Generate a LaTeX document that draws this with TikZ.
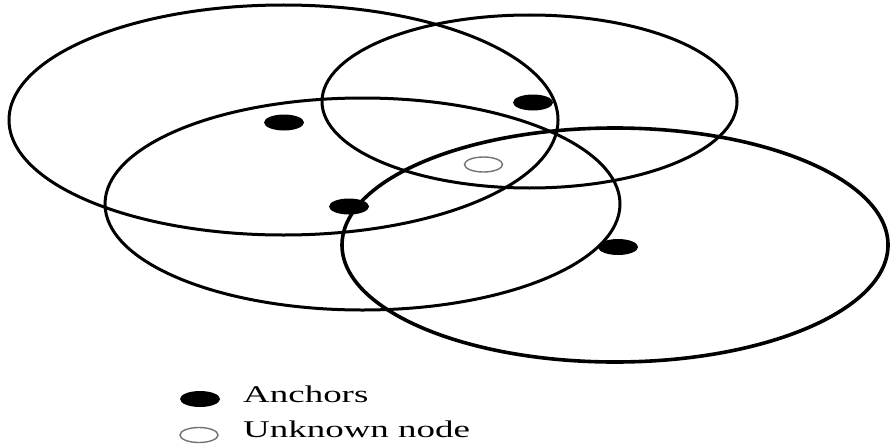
\documentclass[tikz,border=0pt]{standalone}
\usepackage{fontspec}
\usepackage{graphicx}
\setmainfont{Liberation Serif}
\usetikzlibrary{shapes.geometric}
\begin{document}
\begin{tikzpicture}[x=1pt,y=-1pt,
  rangering/.style={ellipse, draw=black, line width=3pt, inner sep=0pt, outer sep=0pt},
  anchordot/.style={ellipse, fill=black, inner sep=0pt, minimum width=40pt, minimum height=16pt},
  unknowndot/.style={ellipse, draw=black!55, line width=1.4pt, fill=white, inner sep=0pt, minimum width=38pt, minimum height=15pt},
  legendtext/.style={anchor=base west, inner sep=0pt, font=\fontsize{24}{28}\selectfont}]
\useasboundingbox (0,0) rectangle (890,444);
% range ellipses
\node[rangering, minimum width=549pt, minimum height=230pt] (r1) at (283.5,120) {};
\node[rangering, minimum width=415pt, minimum height=173pt] (r2) at (529.5,101.5) {};
\node[rangering, minimum width=515pt, minimum height=212pt] (r3) at (362.5,204) {};
\node[rangering, line width=3.6pt, minimum width=546pt, minimum height=234pt] (r4) at (615,245) {};
% anchors
\node[anchordot] (a1) at (284,122.5) {};
\node[anchordot] (a2) at (533,102.5) {};
\node[anchordot] (a3) at (349,206.5) {};
\node[anchordot] (a4) at (618,247) {};
% unknown node
\node[unknowndot] (u) at (483.5,164.5) {};
% legend
\node[anchordot] (la) at (200,399) {};
\node[unknowndot] (lu) at (199,435) {};
\node[legendtext] (ta) at (243,402) {\scalebox{1.54}[1]{Anchors}};
\node[legendtext] (tu) at (243,437) {\scalebox{1.54}[1]{Unknown node}};
\end{tikzpicture}
\end{document}
